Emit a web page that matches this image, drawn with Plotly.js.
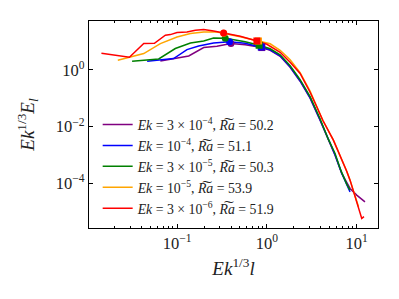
<!DOCTYPE html>
<html><head><meta charset="utf-8">
<script src="https://cdn.plot.ly/plotly-3.0.1.min.js"></script>
<style>html,body{margin:0;padding:0;background:#fff}#chart{width:399px;height:299px}</style>
</head><body><div id="chart"></div>
<script>
// Data (x = Ek^{1/3} l, y = Ek^{1/3} E_l)
const purpleX = [0.0652, 0.0957, 0.135, 0.198, 0.278, 0.398, 0.574, 0.879, 1.089, 1.406, 1.816, 2.344, 3.027, 3.908, 4.83, 5.74, 6.81, 7.74, 8.43, 10.0, 12.36];
const purpleY = [2.07, 2.52, 3.11, 6.15, 6.84, 8.51, 7.71, 6.15, 4.94, 3.03, 1.24, 0.40, 0.101, 0.0169, 0.00335, 0.00099, 2.25e-4, 1.11e-4, 6.67e-5, 3.87e-5, 2.25e-5];
const blueX = [0.0465, 0.0916, 0.129, 0.174, 0.255, 0.384, 0.574, 0.865, 1.089, 1.406, 1.816, 2.344, 3.027, 3.908, 4.83, 5.74, 6.81, 7.74, 8.43];
const blueY = [2.02, 2.52, 5.22, 7.00, 8.93, 9.84, 8.71, 6.46, 5.14, 3.16, 1.30, 0.417, 0.105, 0.0176, 0.00348, 0.00103, 2.31e-4, 8.71e-5, 5.06e-5];
const greenX = [0.0316, 0.0625, 0.0957, 0.141, 0.198, 0.255, 0.344, 0.574, 0.820, 1.089, 1.406, 1.816, 2.344, 3.027, 3.908, 4.83, 5.74, 6.64, 7.74, 8.43];
const greenY = [2.02, 2.44, 5.68, 8.93, 10.5, 13.4, 13.1, 9.84, 7.41, 5.57, 3.43, 1.41, 0.452, 0.114, 0.0191, 0.00363, 0.00114, 2.94e-4, 9.44e-5, 5.81e-5];
const orangeX = [0.0219, 0.0426, 0.0652, 0.1, 0.141, 0.198, 0.278, 0.331, 0.505, 0.807, 1.089, 1.406, 1.816, 2.344, 3.027, 3.53, 4.19, 5.50, 6.52, 7.74, 8.43, 9.57, 10.47];
const orangeY = [2.20, 3.78, 8.51, 14.5, 19.1, 21.8, 21.8, 19.6, 14.8, 10.5, 8.38, 4.94, 2.29, 0.80, 0.18, 0.058, 0.0169, 0.00335, 0.00099, 2.71e-4, 1.31e-4, 3.37e-5, 1.5e-5];
const redX = [0.0144, 0.0295, 0.0426, 0.056, 0.0741, 0.0843, 0.1, 0.129, 0.160, 0.198, 0.255, 0.330, 0.505, 0.774, 1.0, 1.406, 1.816, 2.344, 3.027, 3.53, 4.19, 5.50, 6.52, 7.74, 8.43, 9.57, 10.42, 11.38, 12.05];
const redY = [3.87, 2.80, 8.51, 8.71, 16.7, 17.6, 20.7, 21.8, 25.0, 26.5, 23.6, 20.1, 15.4, 10.5, 8.04, 4.20, 1.87, 0.75, 0.164, 0.0571, 0.0169, 0.00335, 0.00099, 2.71e-4, 1.31e-4, 3.37e-5, 1.32e-5, 5.86e-6, 6.78e-6];

// marker points (circle, square) for each run
const purpleMarkX = [0.398, 0.879], purpleMarkY = [8.51, 6.15];
const blueMarkX = [0.384, 0.865], blueMarkY = [9.84, 6.46];
const greenMarkX = [0.344, 0.820], greenMarkY = [13.1, 7.41];
const orangeMarkX = [0.331, 0.807], orangeMarkY = [19.6, 10.5];
const redMarkX = [0.330, 0.774], redMarkY = [20.1, 10.5];

const seriesNames = [
  '<i>Ek</i> = 3 × 10<sup>−4</sup>, <i>R͠a</i> = 50.2',
  '<i>Ek</i> = 10<sup>−4</sup>, <i>R͠a</i> = 51.1',
  '<i>Ek</i> = 3 × 10<sup>−5</sup>, <i>R͠a</i> = 50.3',
  '<i>Ek</i> = 10<sup>−5</sup>, <i>R͠a</i> = 53.9',
  '<i>Ek</i> = 3 × 10<sup>−6</sup>, <i>R͠a</i> = 51.9'
];
const xTickVals = [0.1, 1, 10];
const xTickText = ['10<sup>−1</sup>', '10<sup>0</sup>', '10<sup>1</sup>'];
const yTickVals = [1, 0.01, 0.0001];
const yTickText = ['10<sup>0</sup>', '10<sup>−2</sup>', '10<sup>−4</sup>'];

const colors = ['#800080', '#0000ff', '#008000', '#ffa500', '#ff0000'];
const lines = [[purpleX, purpleY], [blueX, blueY], [greenX, greenY], [orangeX, orangeY], [redX, redY]];
const marks = [[purpleMarkX, purpleMarkY], [blueMarkX, blueMarkY], [greenMarkX, greenMarkY], [orangeMarkX, orangeMarkY], [redMarkX, redMarkY]];

const traces = [];
lines.forEach((s, i) => {
  traces.push({x: s[0], y: s[1], type: 'scatter', mode: 'lines', name: seriesNames[i],
    line: {color: colors[i], width: 1.5}});
});
marks.forEach((m, i) => {
  traces.push({x: m[0], y: m[1], type: 'scatter', mode: 'markers', showlegend: false,
    marker: {color: colors[i], size: 7, symbol: ['circle', 'square']}});
});

const serif = 'Liberation Serif, DejaVu Serif, serif';
const layout = {
  width: 399, height: 299,
  margin: {l: 88.5, r: 21, t: 20.7, b: 71},
  paper_bgcolor: '#fff', plot_bgcolor: '#fff',
  font: {family: serif, color: '#000', size: 14},
  showlegend: true,
  legend: {x: 0.03, y: 0.575, xanchor: 'left', yanchor: 'top', bgcolor: 'rgba(0,0,0,0)',
    font: {family: serif, size: 13.8, color: '#222'}, tracegroupgap: 0},
  xaxis: {type: 'log', range: [-1.98, 1.237], tickmode: 'array', tickvals: xTickVals, ticktext: xTickText,
    ticks: 'inside', ticklen: 4, tickwidth: 1, tickcolor: '#000', showgrid: false, zeroline: false,
    showline: true, linecolor: '#000', linewidth: 1.2, mirror: 'ticks',
    tickfont: {family: serif, size: 16.5, color: '#222'},
    minor: {ticks: 'inside', ticklen: 2, tickcolor: '#000', dtick: 'D1', showgrid: false},
    title: {text: '<i>Ek</i><sup>1/3</sup><i>l</i>', font: {family: serif, size: 19, color: '#222'}, standoff: 9}},
  yaxis: {type: 'log', range: [-5.57, 1.725], tickmode: 'array', tickvals: yTickVals, ticktext: yTickText,
    ticks: 'inside', ticklen: 4, tickwidth: 1, tickcolor: '#000', showgrid: false, zeroline: false,
    showline: true, linecolor: '#000', linewidth: 1.2, mirror: 'ticks',
    tickfont: {family: serif, size: 16.5, color: '#222'},
    title: {text: '<i>Ek</i><sup>1/3</sup><i>E<sub>l</sub></i>', font: {family: serif, size: 19, color: '#222'}, standoff: 16}}
};
Plotly.newPlot('chart', traces, layout, {staticPlot: true, displayModeBar: false});
</script>
</body></html>
